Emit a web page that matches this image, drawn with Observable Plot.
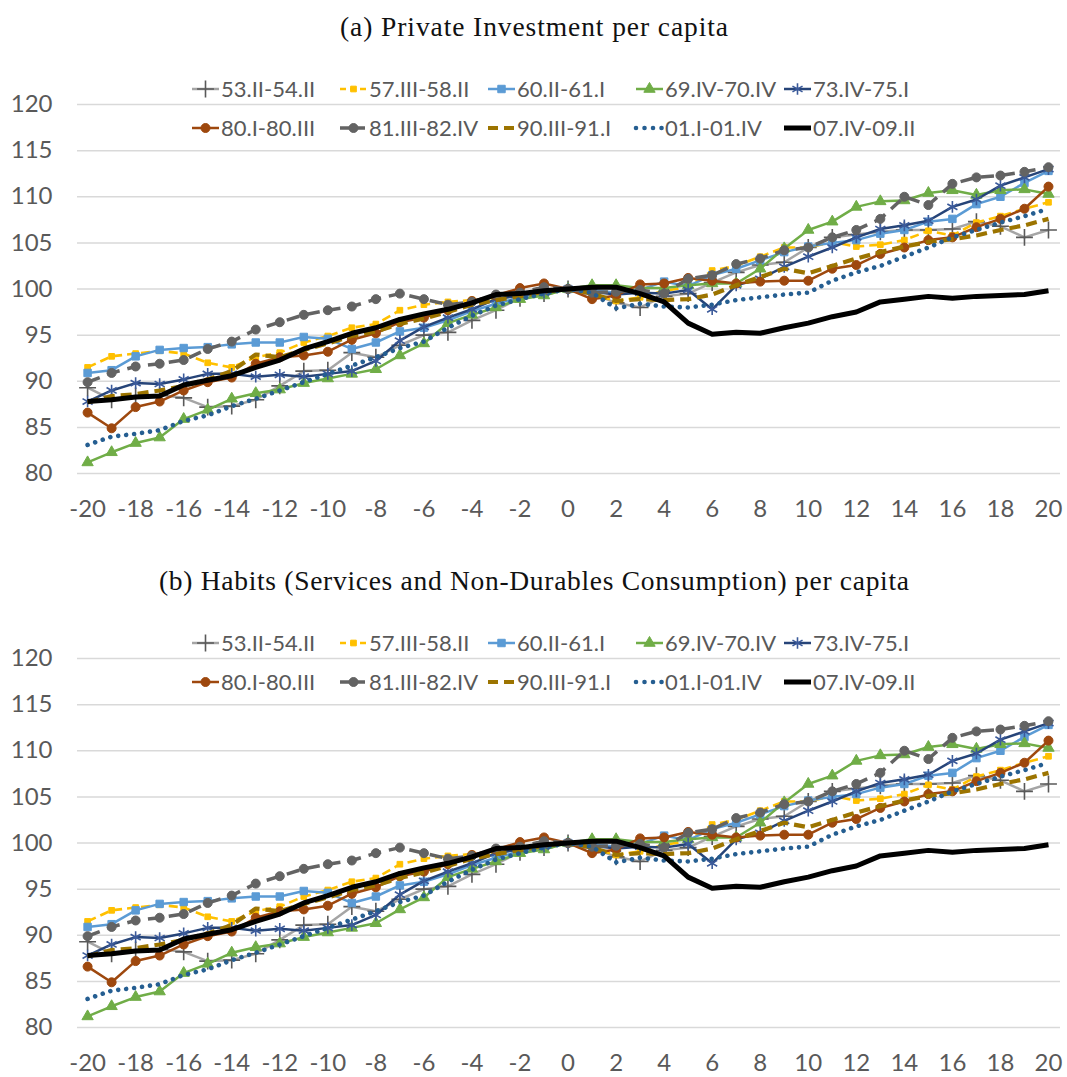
<!DOCTYPE html>
<html><head><meta charset="utf-8">
<script src="https://cdn.jsdelivr.net/npm/d3@7"></script>
<script src="https://cdn.jsdelivr.net/npm/@observablehq/plot@0.6"></script>
<style>
body{margin:0;background:#fff;}
.panel{position:relative;width:1067px;height:554px;overflow:hidden;}
.panel > svg{position:absolute;left:0;}
</style></head><body><div id="root"></div>
<script>
// ---- data ----
const quarters = d3.range(-20, 21);
const seriesNames = ["53.II-54.II","57.III-58.II","60.II-61.I","69.IV-70.IV","73.IV-75.I",
                     "80.I-80.III","81.III-82.IV","90.III-91.I","01.I-01.IV","07.IV-09.II"];
const s53 = [89.3,88.0,88.4,88.5,88.2,87.2,87.3,88.0,89.5,91.1,91.2,93.1,92.6,93.9,95.0,95.3,96.6,97.7,99.0,99.5,100,99.5,98.5,98.0,99.2,99.5,100.7,101.8,102.6,102.9,104.5,105.6,105.9,106.2,106.4,106.4,106.5,107.3,106.8,105.6,106.4];
const s57 = [91.5,92.7,93.0,93.3,93.0,92.0,91.5,92.6,93.1,94.2,94.9,95.8,96.2,97.7,98.3,98.6,98.8,99.0,99.3,99.6,100,99.4,98.7,99.1,99.8,100.2,102.0,102.5,103.5,104.5,104.5,105.1,104.6,104.8,105.3,106.3,105.8,107.2,107.9,108.7,109.4];
const s60 = [90.9,91.2,92.7,93.4,93.6,93.7,94.0,94.2,94.2,94.8,94.6,93.5,94.2,95.4,95.8,96.6,97.6,98.4,99.1,99.6,100,99.9,99.6,99.9,100.8,100.3,101.5,102.2,103.1,104.0,104.6,105.0,105.3,106.0,106.4,107.3,107.6,109.2,110.0,111.5,112.8];
const s69 = [81.2,82.3,83.3,83.9,85.9,86.9,88.1,88.7,89.1,89.8,90.3,90.8,91.3,92.8,94.1,96.3,97.2,98.0,98.9,99.3,100,100.4,100.4,100.1,100.1,100.4,100.6,100.6,102.2,104.4,106.4,107.3,108.9,109.5,109.6,110.4,110.7,110.2,110.7,110.8,110.3];
const s73 = [87.8,89.0,89.8,89.7,90.2,90.8,90.8,90.5,90.7,90.5,90.8,91.1,92.2,94.4,95.9,96.9,97.8,98.9,99.3,99.6,100,99.7,99.4,99.6,99.5,99.9,97.8,100.4,101.1,102.4,103.5,104.5,105.6,106.5,106.9,107.4,108.9,109.7,111.2,112.1,113.0];
const s80 = [86.6,84.9,87.2,87.8,89.0,89.9,90.4,91.9,92.6,92.8,93.2,94.5,95.2,96.4,96.9,97.7,98.7,99.3,100.1,100.6,100,98.9,99.3,100.5,100.6,101.2,100.9,100.6,100.8,100.9,100.9,102.2,102.6,103.8,104.5,105.3,105.6,106.7,107.6,108.7,111.1];
const s81 = [89.9,90.9,91.6,91.9,92.3,93.5,94.3,95.6,96.4,97.2,97.7,98.1,98.9,99.5,98.9,98.3,98.6,99.4,99.6,100.2,100,99.6,99.7,99.9,99.5,101.1,101.5,102.7,103.3,104.2,104.5,105.6,106.4,107.6,110.0,109.1,111.4,112.1,112.3,112.7,113.2];
const s90 = [87.7,88.4,88.6,89.0,89.5,90.2,91.1,92.9,92.6,93.4,94.1,94.9,95.4,96.2,96.8,97.5,98.3,98.8,99.2,99.7,100,99.5,98.7,98.9,98.8,98.9,99.4,100.4,101.3,102.2,101.7,102.5,103.3,104.0,104.6,105.1,105.4,105.8,106.4,106.9,107.6];
const s01 = [83.1,84.0,84.3,84.7,85.7,86.3,87.3,88.1,89.0,89.9,90.8,91.7,92.6,93.6,94.3,95.8,97.1,98.2,98.9,99.5,100,99.6,97.9,98.4,98.1,98.0,98.3,98.8,99.1,99.4,99.6,100.9,101.8,102.5,103.5,104.5,105.6,106.4,107.2,107.9,108.7];
const s07 = [87.8,88.0,88.3,88.4,89.6,90.1,90.6,91.5,92.3,93.5,94.3,95.2,95.8,96.7,97.3,97.8,98.5,99.4,99.5,99.8,100,100.2,100.2,99.5,98.6,96.3,95.1,95.3,95.2,95.8,96.3,97.0,97.5,98.6,98.9,99.2,99.0,99.2,99.3,99.4,99.8];
const seriesValues = [s53,s57,s60,s69,s73,s80,s81,s90,s01,s07];
const xTicks = d3.range(-20, 21, 2);
const yTicks = d3.range(80, 121, 5);
const panelTitles = ["(a) Private Investment per capita",
                     "(b) Habits (Services and Non-Durables Consumption) per capita"];

// ---- styles ----
const titleWidths = [388, 750];
const styles = [
  {stroke:"#A5A5A5", w:2.5, dash:null, sym:"plus", mfill:"none", mstroke:"#595959", r:5.5},
  {stroke:"#FFC000", w:2.6, dash:"9,5", sym:"square", mfill:"#FFC000", mstroke:"#FFC000", r:3.2},
  {stroke:"#5B9BD5", w:2.5, dash:null, sym:"square", mfill:"#5B9BD5", mstroke:"#5B9BD5", r:4.2},
  {stroke:"#70AD47", w:2.5, dash:null, sym:"triangle", mfill:"#70AD47", mstroke:"#70AD47", r:4.2},
  {stroke:"#264478", w:2.5, dash:null, sym:"asterisk", mfill:"none", mstroke:"#3B5A9A", r:5.5},
  {stroke:"#9E480E", w:2.5, dash:null, sym:"circle", mfill:"#9E480E", mstroke:"#9E480E", r:4.5},
  {stroke:"#636363", w:3.5, dash:"13,8", sym:"circle", mfill:"#636363", mstroke:"#636363", r:4.5},
  {stroke:"#9C7400", w:4.2, dash:"11,6", sym:null},
  {stroke:"#255E91", w:4.6, dash:"0.01,8", cap:"round", sym:null},
  {stroke:"#000000", w:5, dash:null, sym:null}
];
const legendDash = [null, "6,4", null, null, null, null, "10,5", "10,6", "0.01,8.5", null];

const rows = [];
seriesNames.forEach((name, k) => quarters.forEach((q, i) => rows.push({name, k, q, v: seriesValues[k][i]})));

const symbolMap = {plus:d3.symbolPlus, square:d3.symbolSquare, triangle:d3.symbolTriangle, asterisk:d3.symbolAsterisk, circle:d3.symbolCircle};

function makePanel(title, tw) {
  const panel = document.createElement("div");
  panel.className = "panel";
  const ts = d3.create("svg").attr("width",1067).attr("height",56).style("top","0px");
  ts.append("text").attr("x",534).attr("y",36).attr("text-anchor","middle")
    .attr("font-family","'Liberation Serif', serif").attr("font-size",27.5).attr("fill","#111")
    .attr("textLength", tw).attr("lengthAdjust","spacing")
    .text(title);
  panel.appendChild(ts.node());

  const marks = [Plot.ruleY(yTicks, {stroke:"#D9D9D9", strokeWidth:1.5})];
  styles.forEach((st, k) => {
    const data = rows.filter(d => d.k === k);
    marks.push(Plot.line(data, {x:"q", y:"v", stroke:st.stroke, strokeWidth:st.w,
      strokeDasharray: st.dash || undefined, strokeLinecap: st.cap || "butt", strokeLinejoin:"round"}));
    if (st.sym) marks.push(Plot.dot(data, {x:"q", y:"v", symbol: st.sym, r: st.r,
      fill: st.mfill, stroke: st.mstroke, strokeWidth: st.sym==="plus"||st.sym==="asterisk" ? 1.6 : 1}));
  });
  marks.push(Plot.axisX(xTicks, {tickSize:0, tickPadding:26, tickFormat:d=>String(d), fontSize:24, fill:"#595959", label:null}));
  marks.push(Plot.axisY(yTicks, {tickSize:0, tickPadding:25, tickFormat:d=>String(d), fontSize:24, fill:"#595959", label:null}));

  const chart = Plot.plot({
    width:1067, height:480,
    marginLeft:77, marginRight:7, marginTop:44, marginBottom:67,
    x:{domain:[-20.42, 20.5], label:null},
    y:{domain:[80,120], label:null},
    style:{fontFamily:"Lato, sans-serif", background:"transparent", overflow:"visible"},
    marks
  });
  chart.style.position = "absolute";
  chart.style.top = "60px";
  chart.style.left = "0px";
  panel.appendChild(chart);

  const lg = d3.create("svg").attr("width",1067).attr("height",150).style("top","0px");
  seriesNames.forEach((name, k) => {
    const st = styles[k];
    const c = k % 5, r = Math.floor(k / 5);
    const x0 = 192 + 148 * c, y = 89 + 39 * r;
    const g = lg.append("g");
    g.append("line").attr("x1",x0).attr("x2",x0+27).attr("y1",y).attr("y2",y)
      .attr("stroke",st.stroke).attr("stroke-width",st.w)
      .attr("stroke-dasharray", legendDash[k])
      .attr("stroke-linecap", st.cap || "butt");
    if (st.sym) {
      const size = Math.PI * st.r * st.r;
      g.append("path").attr("d", d3.symbol(symbolMap[st.sym], size)())
        .attr("transform",`translate(${x0+13.5},${y})`)
        .attr("fill",st.mfill).attr("stroke",st.mstroke)
        .attr("stroke-width", st.sym==="plus"||st.sym==="asterisk" ? 1.6 : 1);
    }
    g.append("text").attr("x",x0+29).attr("y",y).attr("dy","0.36em")
      .attr("font-family","Lato, sans-serif").attr("font-size",22).attr("fill","#595959")
      .text(name);
  });
  panel.appendChild(lg.node());
  return panel;
}

const root = document.getElementById("root");
panelTitles.forEach((t, i) => root.appendChild(makePanel(t, titleWidths[i])));
</script></body></html>
